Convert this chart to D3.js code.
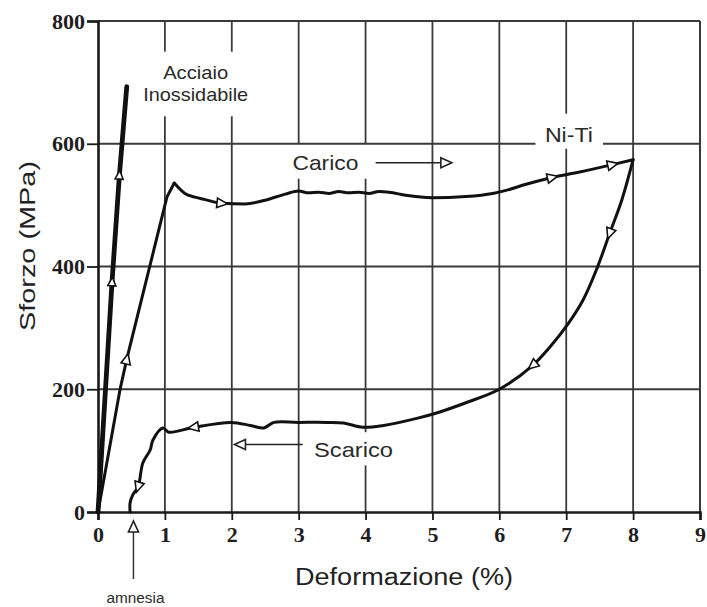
<!DOCTYPE html>
<html>
<head>
<meta charset="utf-8">
<script src="https://cdn.jsdelivr.net/npm/d3@7"></script>
<style>
  html, body { margin: 0; padding: 0; background: #fff; }
  svg { display: block; }
</style>
</head>
<body>
<div id="chart"></div>
<script>
// Stress–strain curves: stainless steel vs. superelastic Ni-Ti (loading / unloading)
const xTickValues = [0, 1, 2, 3, 4, 5, 6, 7, 8, 9];
const yTickValues = [0, 200, 400, 600, 800];

// Acciaio inossidabile (strain %, stress MPa)
const steelStrain = [0, 0.21, 0.32, 0.43];
const steelStress = [0, 375, 549, 693];

// Ni-Ti, carico
const loadStrain = [0, 0.33, 0.43, 1.03, 1.14, 1.30, 1.45, 1.60, 1.85, 2.20, 2.50, 2.80, 3.00, 3.15, 3.30, 3.45, 3.60, 3.75, 3.90, 4.05, 4.20, 4.35, 4.60, 5.00, 5.50, 5.90, 6.10, 6.40, 6.79, 7.20, 7.69, 8.00];
const loadStress = [0, 200, 249, 513, 536, 519, 513, 509, 503, 502, 508, 518, 523, 520, 521, 519, 522, 520, 521, 519, 522, 521, 516, 512, 514, 519, 524, 534, 545, 554, 566, 574];
const loadPeakIdx = 4; // end of the elastic rise

// Ni-Ti, scarico
const unloadStrain = [8.00, 7.83, 7.65, 7.46, 7.25, 7.03, 6.75, 6.50, 6.00, 5.50, 5.11, 4.78, 4.27, 3.96, 3.67, 3.43, 2.99, 2.63, 2.48, 2.28, 1.99, 1.43, 1.06, 0.97, 0.82, 0.78, 0.67, 0.60, 0.52, 0.48, 0.48];
const unloadStress = [574, 508, 454, 397, 345, 307, 268, 239, 200, 178, 163, 153, 141, 138, 145, 146, 146, 146, 137, 141, 146, 138, 130, 137, 117, 101, 80, 41, 28, 15, 0];

// Direction markers sit on these sample indices
const steelMarkerIdx = [1, 2];
const loadMarkerIdx = [2, 8, 28, 30];
const unloadMarkerIdx = [2, 7, 21, 27];

const amnesiaStrain = 0.53;

const width = 707, height = 607;
const plot = { left: 98, right: 700, top: 21, bottom: 512 };

const x = d3.scaleLinear().domain([0, 9]).range([plot.left, plot.right]);
const y = d3.scaleLinear().domain([0, 800]).range([plot.bottom, plot.top]);

const svg = d3.select("#chart").append("svg")
  .attr("width", width).attr("height", height);

const ink = "#1a1a1a";
const gridInk = "#3a3a3a";

// Grid with breaks where annotations sit
const vGaps = { 1: [[645, 750]], 2: [[645, 750]], 3: [[543, 600]], 4: [[543, 600], [76, 130]], 7: [[592, 649]] };
const hGaps = { 600: [[6.54, 7.55]] };

function splitRange(lo, hi, gaps) {
  const segs = [];
  let start = lo;
  (gaps || []).slice().sort((a, b) => a[0] - b[0]).forEach(g => {
    segs.push([start, g[0]]);
    start = g[1];
  });
  segs.push([start, hi]);
  return segs;
}

const grid = svg.append("g").attr("stroke", gridInk).attr("stroke-width", 1.8);
xTickValues.filter(v => v > 0 && v < 9).forEach(v => {
  splitRange(0, 800, vGaps[v]).forEach(s => {
    grid.append("line").attr("x1", x(v)).attr("x2", x(v)).attr("y1", y(s[0])).attr("y2", y(s[1]));
  });
});
yTickValues.filter(v => v > 0 && v < 800).forEach(v => {
  splitRange(0, 9, hGaps[v]).forEach(s => {
    grid.append("line").attr("y1", y(v)).attr("y2", y(v)).attr("x1", x(s[0])).attr("x2", x(s[1]));
  });
});
// frame top & right
svg.append("line").attr("x1", x(0)).attr("x2", x(9)).attr("y1", y(800)).attr("y2", y(800))
  .attr("stroke", gridInk).attr("stroke-width", 2);
svg.append("line").attr("x1", x(9)).attr("x2", x(9)).attr("y1", y(800)).attr("y2", y(0))
  .attr("stroke", gridInk).attr("stroke-width", 2);

// Axes
const xAxis = d3.axisBottom(x).tickValues(xTickValues).tickSize(8).tickPadding(6).tickFormat(d3.format("d"));
const yAxis = d3.axisLeft(y).tickValues(yTickValues).tickSize(11).tickPadding(2).tickFormat(d3.format("d"));

const gx = svg.append("g").attr("transform", `translate(0,${plot.bottom})`).call(xAxis);
const gy = svg.append("g").attr("transform", `translate(${plot.left},0)`).call(yAxis);
[gx, gy].forEach(g => {
  g.select(".domain").attr("stroke", ink).attr("stroke-width", 2.6);
  g.selectAll(".tick line").attr("stroke", ink).attr("stroke-width", 1.8);
  g.selectAll(".tick text")
    .attr("fill", "#1e1e1e")
    .style("font-family", "'Liberation Serif', 'DejaVu Serif', serif")
    .style("font-weight", "bold")
    .style("font-size", "22px");
});

// Axis titles
svg.append("text")
  .attr("x", 404).attr("y", 585)
  .attr("text-anchor", "middle")
  .attr("textLength", 218).attr("lengthAdjust", "spacingAndGlyphs")
  .style("font-family", "'Liberation Sans', Arial, sans-serif")
  .style("font-size", "23px")
  .attr("fill", "#222")
  .text("Deformazione (%)");

svg.append("text")
  .attr("transform", "translate(35,246) rotate(-90)")
  .attr("text-anchor", "middle")
  .attr("textLength", 170).attr("lengthAdjust", "spacingAndGlyphs")
  .style("font-family", "'Liberation Sans', Arial, sans-serif")
  .style("font-size", "22px")
  .attr("fill", "#222")
  .text("Sforzo (MPa)");

// Curves
const pts = (xs, ys) => xs.map((v, i) => [v, ys[i]]);
const steel = pts(steelStrain, steelStress);
const load = pts(loadStrain, loadStress);
const unload = pts(unloadStrain, unloadStress);

const straight = d3.line().x(d => x(d[0])).y(d => y(d[1]));
const plateauLine = d3.line().x(d => x(d[0])).y(d => y(d[1])).curve(d3.curveMonotoneX);
const unloadLine = d3.line().x(d => x(d[0])).y(d => y(d[1])).curve(d3.curveCatmullRom.alpha(0.5));

svg.append("path").datum(steel).attr("d", straight)
  .attr("fill", "none").attr("stroke", "#111").attr("stroke-width", 4.8).attr("stroke-linecap", "round");

const curveStyle = p => p.attr("fill", "none").attr("stroke", "#111").attr("stroke-width", 3)
  .attr("stroke-linejoin", "round").attr("stroke-linecap", "round");
svg.append("path").datum(load.slice(0, loadPeakIdx + 1)).attr("d", straight).call(curveStyle);
svg.append("path").datum(load.slice(loadPeakIdx)).attr("d", plateauLine).call(curveStyle);
svg.append("path").datum(unload).attr("d", unloadLine).call(curveStyle);

// Open triangular direction markers
const tri = "M6,0 L-5,-5 L-5,5 Z";
function markers(series, idx, size) {
  idx.forEach(i => {
    const p = series[i];
    const a = series[Math.max(0, i - 1)], b = series[Math.min(series.length - 1, i + 1)];
    const ang = Math.atan2(y(b[1]) - y(a[1]), x(b[0]) - x(a[0])) * 180 / Math.PI;
    svg.append("path")
      .attr("d", tri)
      .attr("transform", `translate(${x(p[0])},${y(p[1])}) rotate(${ang}) scale(${size})`)
      .attr("fill", "#fff").attr("stroke", "#111").attr("stroke-width", 1.6 / size);
  });
}
markers(steel, steelMarkerIdx, 0.8);
markers(load, loadMarkerIdx, 0.95);
markers(unload, unloadMarkerIdx, 0.95);

// Annotations
const labelFont = "'Liberation Sans', Arial, sans-serif";
function label(txt, px, py, size, len) {
  const t = svg.append("text").attr("x", px).attr("y", py)
    .attr("text-anchor", "middle")
    .style("font-family", labelFont).style("font-size", size + "px")
    .attr("fill", "#2a2a2a").text(txt);
  if (len) t.attr("textLength", len).attr("lengthAdjust", "spacingAndGlyphs");
  return t;
}
label("Acciaio", x(1.46), y(706), 19, 65);
label("Inossidabile", x(1.46), y(670), 19, 105);
label("Ni-Ti", x(7.04), y(603), 21, 48);
label("Carico", x(3.4), y(557), 21, 66);
label("Scarico", x(3.82), y(90), 21, 79);

// Arrows next to Carico / Scarico
function arrow(x0, x1, yv) {
  const dir = Math.sign(x1 - x0);
  const xe = x(x1), yy = y(yv);
  svg.append("line").attr("x1", x(x0)).attr("x2", xe - dir * 11).attr("y1", yy).attr("y2", yy)
    .attr("stroke", "#222").attr("stroke-width", 1.6);
  svg.append("path")
    .attr("d", `M${xe},${yy} L${xe - dir * 11},${yy - 5} L${xe - dir * 11},${yy + 5} Z`)
    .attr("fill", "#fff").attr("stroke", "#222").attr("stroke-width", 1.6);
}
arrow(4.15, 5.29, 569);
arrow(3.06, 2.04, 110);

// Amnesia pointer below the axis
const ax = x(amnesiaStrain);
svg.append("line").attr("x1", ax).attr("x2", ax).attr("y1", plot.bottom + 67).attr("y2", plot.bottom + 20)
  .attr("stroke", "#333").attr("stroke-width", 1.5);
svg.append("path")
  .attr("d", `M${ax},${plot.bottom + 9} L${ax - 5},${plot.bottom + 20} L${ax + 5},${plot.bottom + 20} Z`)
  .attr("fill", "#fff").attr("stroke", "#222").attr("stroke-width", 1.6);
label("amnesia", ax + 2, plot.bottom + 91, 14, 58);
</script>
</body>
</html>
